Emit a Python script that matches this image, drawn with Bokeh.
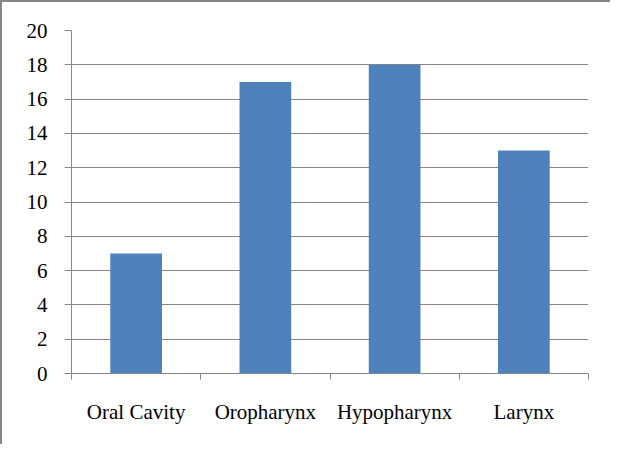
from bokeh.plotting import figure
from bokeh.models import FixedTicker, Range1d
from bokeh.embed import file_html
from bokeh.resources import INLINE

categories = ["Oral Cavity", "Oropharynx", "Hypopharynx", "Larynx"]
values = [7, 17, 18, 13]
y_ticks = [0, 2, 4, 6, 8, 10, 12, 14, 16, 18, 20]

GRAY = "#868686"
BAR = "#4F81BD"
FONT = "Liberation Serif"
FSIZE = "21px"

n = len(categories)
centers = [i + 0.5 for i in range(n)]
bounds = list(range(n + 1))

p = figure(width=610, height=444, output_backend="svg", toolbar_location=None,
           x_range=Range1d(0, n), y_range=Range1d(0, max(y_ticks)),
           min_border_left=69, min_border_right=24, min_border_top=28,
           min_border_bottom=73, outline_line_color=None,
           background_fill_color="white", border_fill_color="white")
p.styles = {"border-left": "2px solid #868686", "border-top": "2px solid #868686"}

p.vbar(x=centers, top=values, width=0.4, fill_color=BAR, line_color=None)

p.xgrid.grid_line_color = None
p.ygrid.grid_line_color = GRAY
p.ygrid.grid_line_width = 1

xa = p.xaxis[0]
xa.ticker = FixedTicker(ticks=centers, minor_ticks=bounds)
xa.major_label_overrides = {c: lab for c, lab in zip(centers, categories)}
xa.major_tick_line_color = None
xa.major_tick_out = 0
xa.major_tick_in = 0
xa.minor_tick_line_color = GRAY
xa.minor_tick_out = 6
xa.minor_tick_in = 0
xa.axis_line_color = GRAY
xa.major_label_text_font = FONT
xa.major_label_text_font_size = FSIZE
xa.major_label_text_color = "black"
xa.major_label_standoff = 20

ya = p.yaxis[0]
ya.ticker = FixedTicker(ticks=y_ticks)
ya.major_tick_line_color = GRAY
ya.major_tick_out = 7
ya.major_tick_in = 0
ya.minor_tick_line_color = None
ya.axis_line_color = GRAY
ya.major_label_text_font = FONT
ya.major_label_text_font_size = FSIZE
ya.major_label_text_color = "black"
ya.major_label_standoff = 17

open("out.html", "w").write(file_html(p, INLINE))
